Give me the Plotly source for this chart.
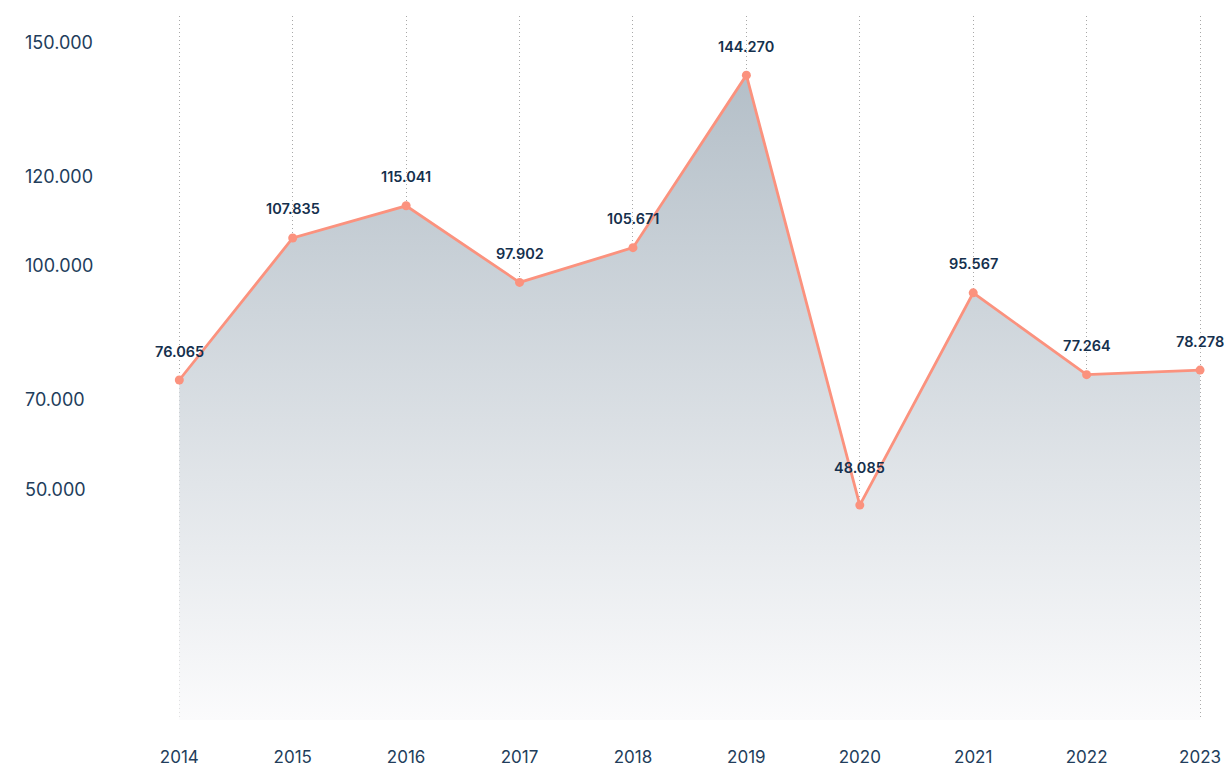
import plotly.graph_objects as go

# ================= DATA =================
YEARS = [2014, 2015, 2016, 2017, 2018, 2019, 2020, 2021, 2022, 2023]
VALUES = [76065, 107835, 115041, 97902, 105671, 144270, 48085, 95567, 77264, 78278]
Y_TICKS = [50000, 70000, 100000, 120000, 150000]
# ========================================

LINE_COLOR = "#fb927e"
LABEL_COLOR = "#15304d"
TICK_COLOR = "#223d5b"
FONT = "Inter"


def fmt(v):
    return f"{v:,}".replace(",", ".")


fig = go.Figure()
fig.add_trace(go.Scatter(
    x=YEARS,
    y=VALUES,
    mode="lines+markers",
    fill="tozeroy",
    fillgradient=dict(
        type="vertical",
        start=0,
        stop=max(VALUES),
        colorscale=[[0, "#fbfbfc"], [1, "#b4bfc8"]],
    ),
    line=dict(color=LINE_COLOR, width=2.8),
    marker=dict(color=LINE_COLOR, size=9),
    hoverinfo="x+y",
    showlegend=False,
))

low = min(VALUES)
for yr, v in zip(YEARS, VALUES):
    fig.add_annotation(
        x=yr, y=v, text=fmt(v),
        showarrow=False,
        yshift=38 if v == low else 29,
        font=dict(family=FONT, size=14.5, color=LABEL_COLOR, weight=600),
    )

fig.update_layout(
    width=1224,
    height=767,
    margin=dict(l=22, r=10, t=16, b=47),
    plot_bgcolor="white",
    paper_bgcolor="white",
    separators=",.",
    font=dict(family=FONT, color=TICK_COLOR),
    xaxis=dict(
        range=[2012.613, 2023.123],
        tickvals=YEARS,
        showgrid=True,
        gridcolor="#a8a8a8",
        griddash="1px,3px",
        gridwidth=1.2,
        zeroline=False,
        showline=False,
        ticks="",
        automargin=False,
        ticklabelstandoff=25,
        tickfont=dict(family=FONT, size=17, color=TICK_COLOR),
    ),
    yaxis=dict(
        range=[0, 157500],
        tickvals=Y_TICKS,
        tickformat=",d",
        showgrid=False,
        zeroline=False,
        showline=False,
        ticks="",
        automargin=False,
        ticklabelposition="inside",
        ticklabelshift=-7,
        tickfont=dict(family=FONT, size=18, color=TICK_COLOR),
    ),
)

fig.write_html(
    "out.html",
    config={"displayModeBar": False},
    post_script="document.body.style.margin='0';document.body.style.overflow='hidden';",
)
